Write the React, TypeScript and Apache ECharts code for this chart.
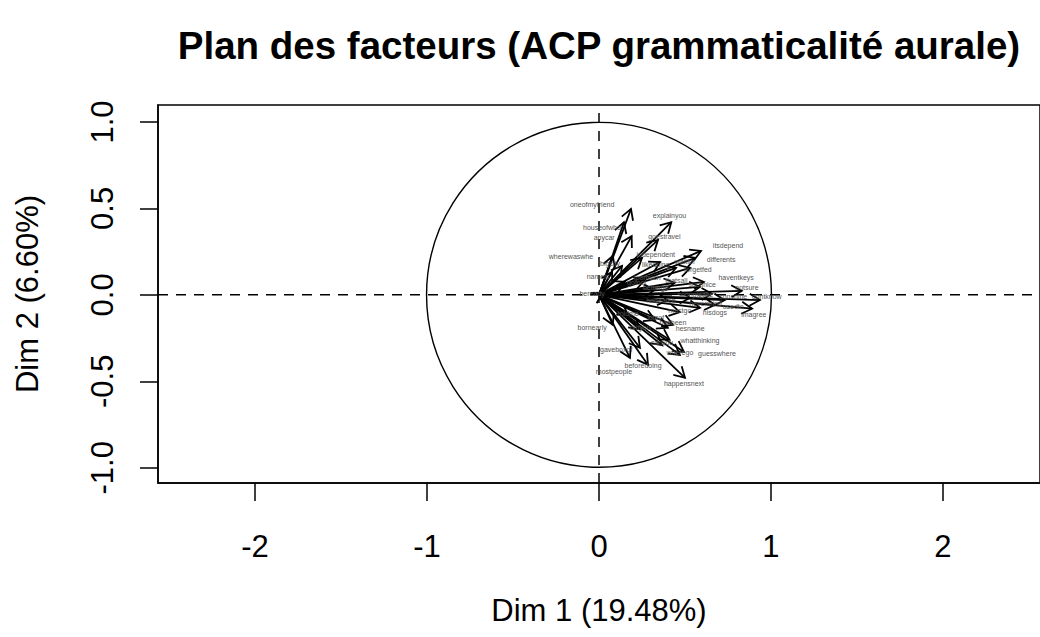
import React, { useEffect, useRef } from "react";
import * as echarts from "echarts";

// ---- data ----
const varNames = [
  "oneofmyfriend", "houseofwho", "anycar", "explainyou", "goestravel",
  "itsdepend", "differents", "forgetfed", "wherewaswhe", "independent",
  "nameis", "gofoot", "bigcity", "beready", "waitfor",
  "likedoing", "haventkeys", "sunshine", "imagree", "hisdogs",
  "notsure", "usedto", "soonplease", "mustgo", "bettergo",
  "hadeaten", "suchnice", "nevermind", "toomuch", "dontknow",
  "thatsall", "bornearly", "hesname", "whatthinking", "guesswhere",
  "gaveboxof", "beforedoing", "mostpeople", "happensnext", "wherego",
  "hasbeen", "lotsof", "didyou", "toldme", "canyou",
];
const dim1 = [
  0.186, 0.145, 0.19, 0.42, 0.343,
  0.593, 0.56, 0.448, 0.08, 0.25,
  0.076, 0.15, 0.134, 0.02, 0.53,
  0.355, 0.61, 0.657, 0.89, 0.587,
  0.83, 0.73, 0.53, 0.47, 0.325,
  0.4, 0.587, 0.674, 0.267, 0.936,
  0.44, 0.08, 0.4, 0.41, 0.494,
  0.238, 0.285, 0.18, 0.5, 0.47,
  0.43, 0.325, 0.238, 0.17, 0.366,
];
const dim2 = [
  0.497, 0.42, 0.34, 0.42, 0.318,
  0.254, 0.214, 0.156, 0.225, 0.214,
  0.133, 0.075, 0.168, 0.012, 0.156,
  0.19, 0.075, 0.006, -0.08, -0.075,
  0.023, -0.03, -0.017, -0.1, 0.03,
  -0.03, 0.046, -0.058, 0.087, -0.03,
  0.07, -0.173, -0.19, -0.26, -0.33,
  -0.306, -0.405, -0.364, -0.48, -0.347,
  -0.173, -0.145, -0.2, -0.12, -0.29,
];
// label anchors, in the same units as the dimensions
const labelDim1 = [
  -0.04, 0.017, 0.03, 0.41, 0.38,
  0.75, 0.71, 0.575, -0.163, 0.33,
  -0.006, 0.22, 0.064, -0.04, 0.5,
  0.33, 0.797, 0.78, 0.9, 0.674,
  0.86, 0.78, 0.56, 0.47, 0.33,
  0.36, 0.6, 0.62, 0.28, 0.975,
  0.45, -0.04, 0.53, 0.587, 0.686,
  0.1, 0.256, 0.087, 0.494, 0.47,
  0.43, 0.33, 0.24, 0.17, 0.366,
];
const labelDim2 = [
  0.52, 0.387, 0.33, 0.457, 0.335,
  0.283, 0.202, 0.145, 0.22, 0.231,
  0.104, 0.07, 0.18, 0.006, 0.195,
  0.178, 0.1, -0.012, -0.116, -0.104,
  0.042, -0.068, 0.0, -0.088, 0.045,
  -0.035, 0.058, -0.05, 0.1, -0.01,
  0.082, -0.19, -0.197, -0.266, -0.341,
  -0.318, -0.41, -0.445, -0.514, -0.335,
  -0.16, -0.133, -0.19, -0.108, -0.278,
];
const xTicks = [-2, -1, 0, 1, 2];
const yTicks = [-1, -0.5, 0, 0.5, 1];
const xRange = [-2.564, 2.564];
const yRange = [-1.088, 1.098];

const titleText = "Plan des facteurs (ACP grammaticalité aurale)";
const xTitle = "Dim 1 (19.48%)";
const yTitle = "Dim 2 (6.60%)";

const FONT = "'Liberation Sans', Arial, Helvetica, sans-serif";

export default function App() {
  const ref = useRef<HTMLDivElement>(null);

  useEffect(() => {
    if (!ref.current) return;
    const chart = echarts.init(ref.current, null, { renderer: "svg" });

    const arrowData = dim1.map((x, i) => [x, dim2[i], i]);
    const labelData = labelDim1.map((x, i) => [x, labelDim2[i], i]);

    chart.setOption({
      animation: false,
      backgroundColor: "#ffffff",
      grid: {
        left: 158,
        top: 105,
        width: 882,
        height: 378,
        show: true,
        borderColor: "#000",
        borderWidth: 1.5,
        backgroundColor: "transparent",
      },
      graphic: [
        {
          type: "text",
          x: 599,
          y: 45,
          style: {
            text: titleText,
            fontFamily: FONT,
            fontWeight: "bold",
            fontSize: 38.5,
            fill: "#000",
            align: "center",
            verticalAlign: "middle",
          },
        },
        {
          type: "text",
          x: 599,
          y: 610,
          style: {
            text: xTitle,
            fontFamily: FONT,
            fontSize: 31,
            fill: "#000",
            align: "center",
            verticalAlign: "middle",
          },
        },
        {
          type: "text",
          x: 27,
          y: 294,
          rotation: Math.PI / 2,
          style: {
            text: yTitle,
            fontFamily: FONT,
            fontSize: 31,
            fill: "#000",
            align: "center",
            verticalAlign: "middle",
          },
        },
      ],
      xAxis: {
        type: "value",
        min: xRange[0],
        max: xRange[1],
        splitLine: { show: false },
        axisLine: { show: true, onZero: false, lineStyle: { color: "#000", width: 1.5 } },
        axisTick: {
          show: true,
          customValues: xTicks,
          length: 18,
          lineStyle: { color: "#000", width: 1.5 },
        },
        axisLabel: {
          customValues: xTicks,
          margin: 48,
          fontSize: 31,
          fontFamily: FONT,
          color: "#000",
          formatter: (v: number) => String(v),
        },
      },
      yAxis: {
        type: "value",
        min: yRange[0],
        max: yRange[1],
        splitLine: { show: false },
        axisLine: { show: true, onZero: false, lineStyle: { color: "#000", width: 1.5 } },
        axisTick: {
          show: true,
          customValues: yTicks,
          length: 18,
          lineStyle: { color: "#000", width: 1.5 },
        },
        axisLabel: {
          customValues: yTicks,
          rotate: 90,
          margin: 40,
          fontSize: 31,
          fontFamily: FONT,
          color: "#000",
          formatter: (v: number) => v.toFixed(1),
        },
      },
      series: [
        {
          type: "line",
          data: [[xRange[0], 0], [xRange[1], 0]],
          symbol: "none",
          silent: true,
          lineStyle: { color: "#000", width: 1.5, type: [10, 8] },
          z: 1,
        },
        {
          type: "line",
          data: [[0, yRange[0]], [0, yRange[1]]],
          symbol: "none",
          silent: true,
          lineStyle: { color: "#000", width: 1.5, type: [10, 8] },
          z: 1,
        },
        {
          type: "custom",
          silent: true,
          z: 2,
          data: [[0, 0, 1]],
          renderItem: (params: any, api: any) => {
            const c = api.coord([api.value(0), api.value(1)]);
            const r = api.value(2);
            const px = api.coord([r, 0]);
            const py = api.coord([0, r]);
            const rr = ((px[0] - c[0]) + (c[1] - py[1])) / 2;
            return {
              type: "circle",
              shape: { cx: c[0], cy: c[1], r: rr },
              style: { fill: "none", stroke: "#000", lineWidth: 1.4 },
            };
          },
        },
        {
          type: "custom",
          silent: true,
          z: 3,
          data: arrowData,
          renderItem: (params: any, api: any) => {
            const o = api.coord([0, 0]);
            const t = api.coord([api.value(0), api.value(1)]);
            const a = Math.atan2(t[1] - o[1], t[0] - o[0]);
            const L = 12;
            const sp = Math.PI / 6;
            const h1 = [t[0] - L * Math.cos(a - sp), t[1] - L * Math.sin(a - sp)];
            const h2 = [t[0] - L * Math.cos(a + sp), t[1] - L * Math.sin(a + sp)];
            return {
              type: "group",
              children: [
                {
                  type: "line",
                  shape: { x1: o[0], y1: o[1], x2: t[0], y2: t[1] },
                  style: { stroke: "#000", lineWidth: 1.8 },
                },
                {
                  type: "polyline",
                  shape: { points: [h1, t, h2] },
                  style: { stroke: "#000", lineWidth: 1.8, fill: "none" },
                },
              ],
            };
          },
        },
        {
          type: "custom",
          silent: true,
          z: 4,
          data: labelData,
          renderItem: (params: any, api: any) => {
            const p = api.coord([api.value(0), api.value(1)]);
            const idx = api.value(2);
            return {
              type: "text",
              x: p[0],
              y: p[1],
              style: {
                text: varNames[idx],
                fontFamily: FONT,
                fontSize: 7,
                fill: "#555",
                align: "center",
                verticalAlign: "middle",
              },
            };
          },
        },
      ],
    });

    return () => {
      chart.dispose();
    };
  }, []);

  return (
    <div
      ref={ref}
      style={{ position: "absolute", left: 0, top: 0, width: 1040, height: 637 }}
    />
  );
}
